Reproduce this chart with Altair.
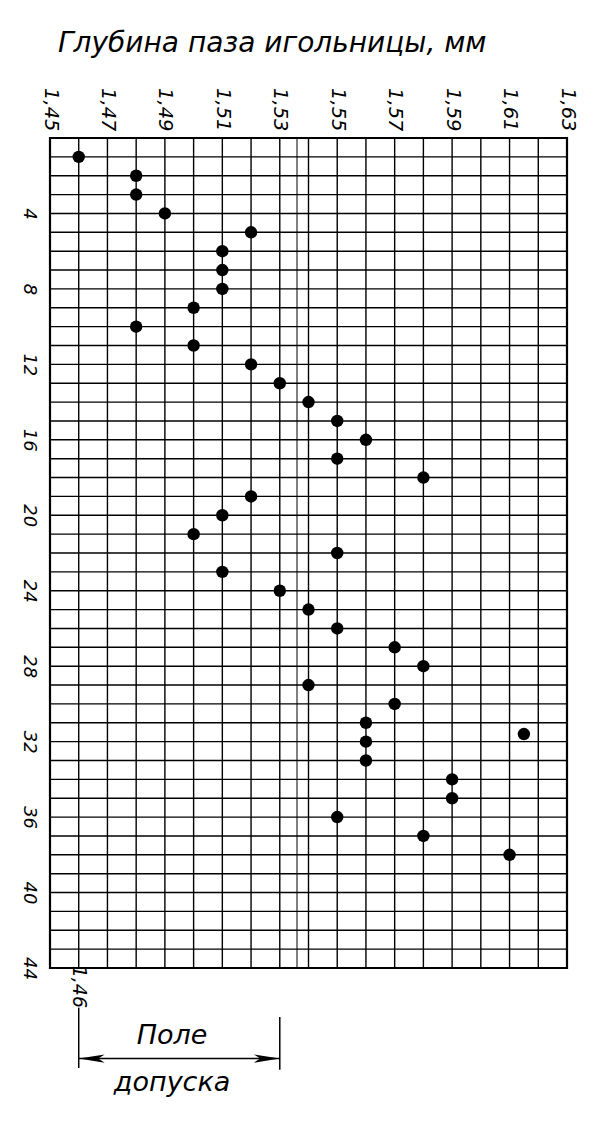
import altair as alt
import pandas as pd

# Номер пробы и глубина паза игольницы, мм
sample_no = [1, 2, 3, 4, 5, 6, 7, 8, 9, 10,
             11, 12, 13, 14, 15, 16, 17, 18, 19, 20,
             21, 22, 23, 24, 25, 26, 27, 28, 29, 30,
             31, 32, 31.6, 33, 34, 35, 36, 37, 38]
slot_depth = [1.46, 1.48, 1.48, 1.49, 1.52, 1.51, 1.51, 1.51, 1.50, 1.48,
              1.50, 1.52, 1.53, 1.54, 1.55, 1.56, 1.55, 1.58, 1.52, 1.51,
              1.50, 1.55, 1.51, 1.53, 1.54, 1.55, 1.57, 1.58, 1.54, 1.57,
              1.56, 1.56, 1.615, 1.56, 1.59, 1.59, 1.55, 1.58, 1.61]

# Сетка: шаг 0,01 мм по глубине, 1 проба по вертикали
depth_ticks = [1.45, 1.46, 1.47, 1.48, 1.49, 1.50, 1.51, 1.52, 1.53, 1.54,
               1.55, 1.56, 1.57, 1.58, 1.59, 1.60, 1.61, 1.62, 1.63]
sample_ticks = list(range(0, 45))

# Поле допуска
tol_low = 1.46
tol_high = 1.53
extra_line = 1.536

FONT = "DejaVu Sans"

df = pd.DataFrame({"n": sample_no, "depth": slot_depth})

x_scale = alt.Scale(domain=[1.45, 1.63], nice=False, zero=False)
y_scale = alt.Scale(domain=[0, 44], nice=False, zero=False, reverse=True)

x_axis = alt.Axis(
    orient="top", values=depth_ticks, title=None,
    labelExpr="round(datum.value * 100) % 2 == 1 ? replace(format(datum.value, '.2f'), '.', ',') : ''",
    labelAngle=90, labelAlign="right", labelBaseline="middle", labelPadding=7,
    labelFontSize=19.5, labelFont=FONT, labelFontStyle="italic", labelColor="black",
    tickSize=0, domain=False, grid=False,
    labelOverlap=False, labelBound=False,
)
y_axis = alt.Axis(
    orient="left", values=sample_ticks, title=None,
    labelExpr="datum.value > 0 && datum.value % 4 == 0 ? datum.label : ''",
    labelAngle=90, labelAlign="center", labelBaseline="middle", labelPadding=22,
    labelFontSize=18, labelFont=FONT, labelFontStyle="italic", labelColor="black",
    tickSize=0, domain=False, grid=False,
    labelOverlap=False, labelBound=False,
)

# сетка миллиметровки
grid_v = alt.Chart(pd.DataFrame({"x": depth_ticks})).mark_rule(
    color="black", strokeWidth=1.4
).encode(x=alt.X("x:Q", scale=x_scale), y=alt.value(0), y2=alt.value(830))
grid_h = alt.Chart(pd.DataFrame({"y": sample_ticks})).mark_rule(
    color="black", strokeWidth=1.4
).encode(y=alt.Y("y:Q", scale=y_scale), x=alt.value(0), x2=alt.value(517))

points = alt.Chart(df).mark_point(filled=True, size=155, color="black", opacity=1).encode(
    x=alt.X("depth:Q", scale=x_scale, axis=x_axis),
    y=alt.Y("n:Q", scale=y_scale, axis=y_axis),
)

# тонкая двойная линия у 1,536
extra = alt.Chart(pd.DataFrame({"x": [extra_line], "y": [0], "y2": [44]})).mark_rule(
    color="black", strokeWidth=1
).encode(x="x:Q", y="y:Q", y2="y2:Q")

# подпись 1,46 под сеткой
low_label = alt.Chart(pd.DataFrame({"x": [tol_low], "y": [45.0], "t": ["1,46"]})).mark_text(
    angle=90, align="center", baseline="middle", fontSize=19, font=FONT,
    fontStyle="italic", color="black"
).encode(x="x:Q", y="y:Q", text="t:N")

# выносные линии поля допуска
leaders = alt.Chart(pd.DataFrame({
    "x": [tol_low, tol_high], "y": [46.1, 46.6], "y2": [49.3, 49.4]
})).mark_rule(color="black", strokeWidth=1.5).encode(x="x:Q", y="y:Q", y2="y2:Q")

arrow_line = alt.Chart(pd.DataFrame({"x": [tol_low], "x2": [tol_high], "y": [48.8]})).mark_rule(
    color="black", strokeWidth=1.5
).encode(x="x:Q", x2="x2:Q", y="y:Q")

head_left = alt.Chart(pd.DataFrame({"x": [tol_low], "y": [48.8]})).mark_point(
    shape="M0,0 L1,-0.16 L0.75,0 L1,0.16 Z", size=2700, filled=True, color="black", opacity=1
).encode(x="x:Q", y="y:Q")
head_right = alt.Chart(pd.DataFrame({"x": [tol_high], "y": [48.8]})).mark_point(
    shape="M0,0 L-1,-0.16 L-0.75,0 L-1,0.16 Z", size=2700, filled=True, color="black", opacity=1
).encode(x="x:Q", y="y:Q")

tol_text = alt.Chart(pd.DataFrame({
    "x": [1.4925, 1.4925], "y": [47.6, 50.1], "t": ["Поле", "допуска"]
})).mark_text(
    align="center", baseline="middle", fontSize=27, font=FONT,
    fontStyle="italic", color="black"
).encode(x="x:Q", y="y:Q", text="t:N")

chart = alt.layer(
    grid_v, grid_h, extra, points, low_label, leaders, arrow_line, head_left, head_right, tol_text
).properties(
    width=517,
    height=830,
    padding={"left": 42, "top": 130, "right": 25, "bottom": 140},
    autosize=alt.AutoSizeParams(type="none"),
    title=alt.Title(
        "Глубина паза игольницы, мм",
        anchor="start", frame="group", dx=8, offset=30,
        font=FONT, fontSize=28, fontStyle="italic", fontWeight="normal", color="black",
    ),
).configure_view(
    stroke="black", strokeWidth=2.2
)

chart.save("out.html", embed_options={"renderer": "svg", "actions": False})
